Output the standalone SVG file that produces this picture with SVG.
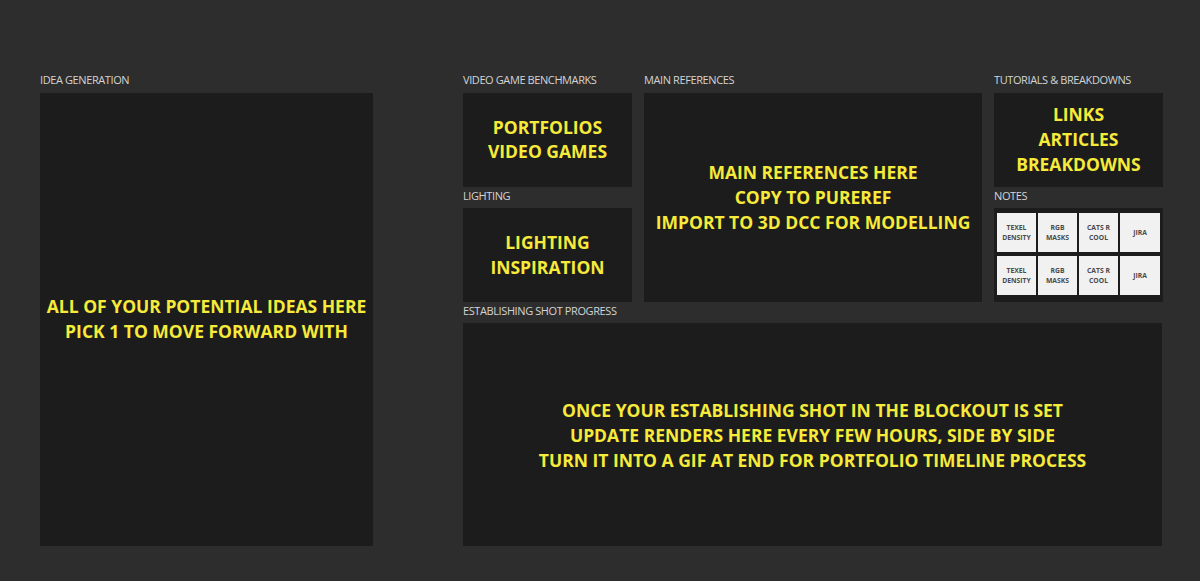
<svg xmlns="http://www.w3.org/2000/svg" width="1200" height="581" viewBox="0 0 1200 581">
<defs>
<style>
.bg{fill:#2d2d2d}
.panel{fill:#1c1c1c}
.lbl{font-family:"Open Sans","Liberation Sans",sans-serif;font-size:11px;letter-spacing:-0.4px;fill:#d4d4d4}
.main{font-family:"Open Sans","Liberation Sans",sans-serif;font-size:17.5px;font-weight:bold;fill:#f6ea3a;text-anchor:middle}
.sticky{fill:#f1f1f1}
.st{font-family:"Open Sans","Liberation Sans",sans-serif;font-size:6.8px;font-weight:bold;fill:#4a4a4a;text-anchor:middle}
</style>
</defs>
<rect class="bg" x="0" y="0" width="1200" height="581"/>
<g id="connectors"></g>

<g id="idea-generation">
<text class="lbl" x="40" y="84">IDEA GENERATION</text>
<rect class="panel" x="40" y="93" width="333" height="453"/>
<text class="main" x="206.5" y="313">ALL OF YOUR POTENTIAL IDEAS HERE</text>
<text class="main" x="206.5" y="338">PICK 1 TO MOVE FORWARD WITH</text>
</g>

<g id="video-game-benchmarks">
<text class="lbl" x="463" y="84">VIDEO GAME BENCHMARKS</text>
<rect class="panel" x="463" y="93" width="169" height="94"/>
<text class="main" x="547.5" y="134">PORTFOLIOS</text>
<text class="main" x="547.5" y="158">VIDEO GAMES</text>
</g>

<g id="lighting">
<text class="lbl" x="463" y="200">LIGHTING</text>
<rect class="panel" x="463" y="208" width="169" height="94"/>
<text class="main" x="547.5" y="249">LIGHTING</text>
<text class="main" x="547.5" y="274">INSPIRATION</text>
</g>

<g id="main-references">
<text class="lbl" x="644" y="84">MAIN REFERENCES</text>
<rect class="panel" x="644" y="93" width="338" height="209"/>
<text class="main" x="813" y="179">MAIN REFERENCES HERE</text>
<text class="main" x="813" y="204">COPY TO PUREREF</text>
<text class="main" x="813" y="229">IMPORT TO 3D DCC FOR MODELLING</text>
</g>

<g id="tutorials-breakdowns">
<text class="lbl" x="994" y="84">TUTORIALS &amp; BREAKDOWNS</text>
<rect class="panel" x="994" y="93" width="169" height="94"/>
<text class="main" x="1078.5" y="121">LINKS</text>
<text class="main" x="1078.5" y="146">ARTICLES</text>
<text class="main" x="1078.5" y="171">BREAKDOWNS</text>
</g>

<g id="notes">
<text class="lbl" x="994" y="200">NOTES</text>
<rect class="panel" x="994" y="208" width="169" height="94"/>
<rect class="sticky" x="997" y="213" width="39" height="39"/>
<rect class="sticky" x="1038" y="213" width="39" height="39"/>
<rect class="sticky" x="1079" y="213" width="39" height="39"/>
<rect class="sticky" x="1120" y="213" width="40" height="39"/>
<rect class="sticky" x="997" y="256" width="39" height="39"/>
<rect class="sticky" x="1038" y="256" width="39" height="39"/>
<rect class="sticky" x="1079" y="256" width="39" height="39"/>
<rect class="sticky" x="1120" y="256" width="40" height="39"/>
<text class="st" x="1016.5" y="230">TEXEL</text>
<text class="st" x="1016.5" y="239.5">DENSITY</text>
<text class="st" x="1057.5" y="230">RGB</text>
<text class="st" x="1057.5" y="239.5">MASKS</text>
<text class="st" x="1098.5" y="230">CATS R</text>
<text class="st" x="1098.5" y="239.5">COOL</text>
<text class="st" x="1140" y="235">JIRA</text>
<text class="st" x="1016.5" y="273">TEXEL</text>
<text class="st" x="1016.5" y="282.5">DENSITY</text>
<text class="st" x="1057.5" y="273">RGB</text>
<text class="st" x="1057.5" y="282.5">MASKS</text>
<text class="st" x="1098.5" y="273">CATS R</text>
<text class="st" x="1098.5" y="282.5">COOL</text>
<text class="st" x="1140" y="278">JIRA</text>
</g>

<g id="establishing-shot-progress">
<text class="lbl" x="463" y="315">ESTABLISHING SHOT PROGRESS</text>
<rect class="panel" x="463" y="323" width="699" height="223"/>
<text class="main" x="812.5" y="417">ONCE YOUR ESTABLISHING SHOT IN THE BLOCKOUT IS SET</text>
<text class="main" x="812.5" y="442">UPDATE RENDERS HERE EVERY FEW HOURS, SIDE BY SIDE</text>
<text class="main" x="812.5" y="467">TURN IT INTO A GIF AT END FOR PORTFOLIO TIMELINE PROCESS</text>
</g>
</svg>
